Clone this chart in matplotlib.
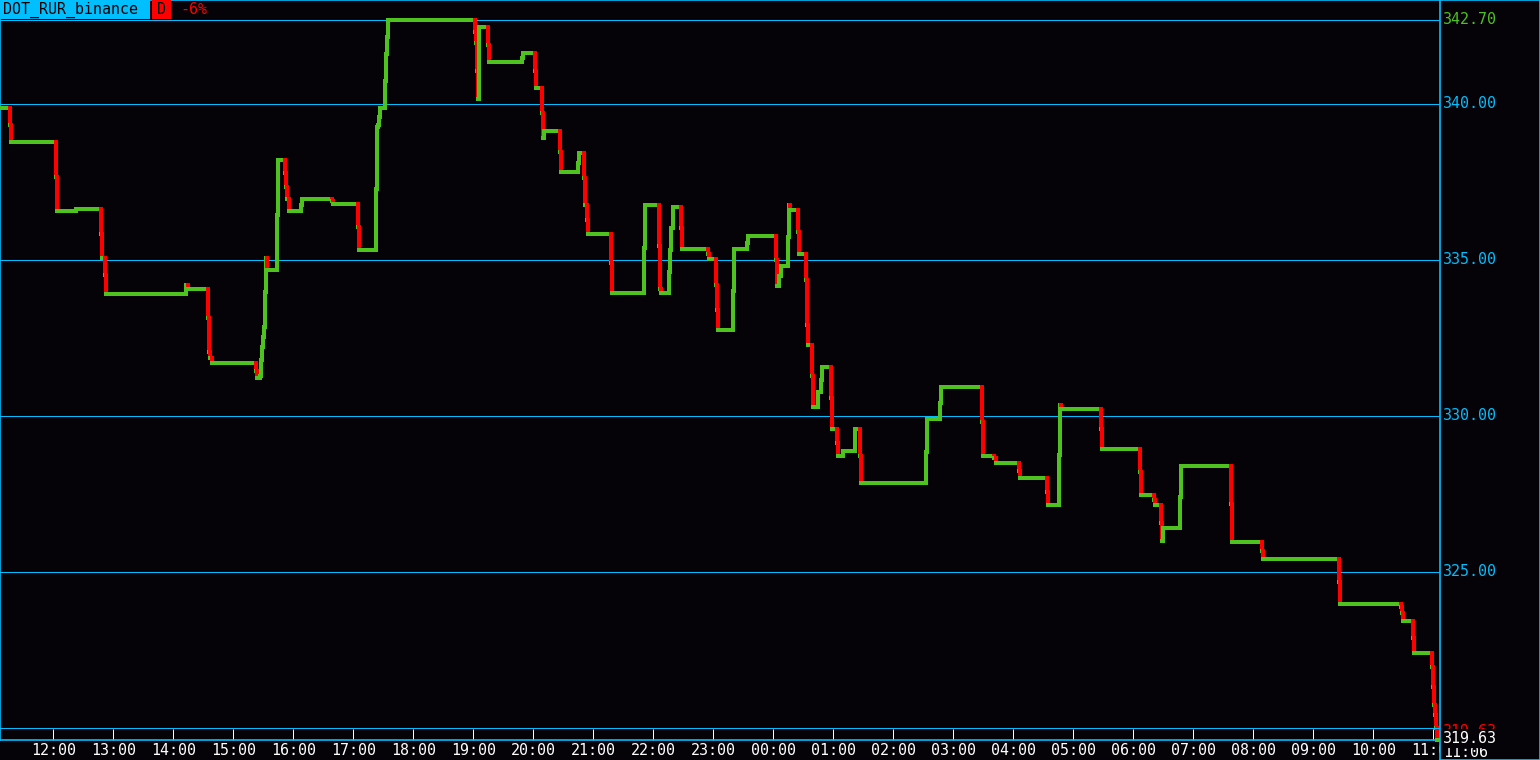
import matplotlib
matplotlib.use("Agg")
import matplotlib.pyplot as plt
from matplotlib.collections import LineCollection
from matplotlib.patches import Rectangle

plt.rcParams["font.family"] = ["DejaVu Sans Mono"]

# minutes since 11:06:40 at which the price changed, and the new price
minutes = [0, 10, 11, 56, 57, 76, 101, 102, 105, 106, 186, 188, 208, 209, 210, 212,
           256, 257, 260, 261, 262, 263, 264, 265, 266, 267, 277, 278, 285, 286, 287, 289,
           301, 302, 332, 333, 358, 359, 376, 377, 378, 379, 380, 385, 386, 387, 388,
           475, 476, 477, 478, 479, 488, 489, 522, 523, 535, 536, 542, 543, 544,
           560, 561, 578, 579, 584, 585, 587, 588, 611, 612, 644, 645, 659, 660, 661,
           669, 670, 671, 673, 681, 682, 708, 709, 716, 717, 718, 733, 734, 747, 748,
           776, 777, 779, 781, 788, 789, 790, 798, 799, 806, 807, 808, 812, 813,
           818, 821, 822, 831, 832, 837, 838, 843, 855, 860, 861, 926, 927, 940, 941,
           982, 983, 994, 996, 1019, 1020, 1047, 1048, 1059, 1060, 1061, 1101, 1102,
           1140, 1141, 1154, 1155, 1161, 1162, 1163, 1180, 1181, 1231, 1232, 1262, 1263,
           1339, 1340, 1401, 1402, 1403, 1413, 1414, 1432, 1433, 1434, 1435, 1436, 1437]
prices = [339.88, 339.33, 338.79, 337.67, 336.58, 336.64, 335.83, 335.05, 334.52, 333.92,
          334.20, 334.07, 333.15, 332.06, 331.86, 331.71,
          331.44, 331.23, 331.29, 331.79, 332.22, 332.54, 332.86, 333.98, 335.05, 334.68,
          336.44, 338.21, 337.78, 337.35, 336.96, 336.58,
          336.76, 336.96, 336.89, 336.80, 336.07, 335.32, 337.28, 339.27, 339.33, 339.59,
          339.86, 340.74, 341.59, 342.16, 342.70,
          342.32, 341.95, 341.07, 340.16, 342.46, 341.89, 341.36, 341.46, 341.63, 341.07,
          340.50, 339.71, 338.90, 339.13,
          338.47, 337.83, 338.10, 338.44, 337.62, 336.76, 336.28, 335.83, 334.89, 333.95,
          335.38, 336.76, 335.46, 334.06, 333.95,
          334.63, 335.32, 336.02, 336.71, 336.02, 335.36, 335.19, 335.04, 334.20, 333.40,
          332.76, 334.02, 335.34, 335.54, 335.77,
          335.00, 334.17, 334.49, 334.81, 335.75, 336.76, 336.60, 335.91, 335.19, 334.36,
          332.92, 332.28, 331.29, 330.30,
          330.78, 331.15, 331.58, 330.59, 329.58, 329.13, 328.72, 328.89, 329.58, 328.72,
          327.86, 328.86, 329.89, 330.43, 330.94,
          329.82, 328.72, 328.64, 328.49, 328.25, 328.02, 327.57, 327.15, 328.75, 330.35,
          330.22, 329.58, 328.94,
          328.21, 327.48, 327.31, 327.15, 326.58, 326.00, 326.42, 327.39, 328.41, 327.18,
          325.97, 325.67, 325.42,
          324.69, 323.97, 323.89, 323.68, 323.43, 322.88, 322.41, 321.96, 321.30, 320.74,
          320.42, 319.99, 319.63]
end_minute = 1438

grid_levels = [340, 335, 330, 325]
hour_labels = ["12:00", "13:00", "14:00", "15:00", "16:00", "17:00", "18:00", "19:00",
               "20:00", "21:00", "22:00", "23:00", "00:00", "01:00", "02:00", "03:00",
               "04:00", "05:00", "06:00", "07:00", "08:00", "09:00", "10:00", "11:00"]
symbol = "DOT_RUR_binance"
change = "-6%"
now_label = "11:06"

bg = "#050308"
cyan = "#00bfff"
green = "#4ec21f"
red = "#ff0000"
fs = 10.8

W, H = 1540, 760
fig = plt.figure(figsize=(W / 100, H / 100), dpi=100, facecolor=bg)

# main price area
ax = fig.add_axes([0, 20 / H, 1440 / W, 740 / H])
ax.set_facecolor(bg)
ax.set_xlim(0, 1440)
top = 340 + 104 / 31.2
bottom = 340 - 636 / 31.2
ax.set_ylim(bottom, top)

for lvl in grid_levels:
    ax.axhline(lvl, color=cyan, lw=0.72, antialiased=False, zorder=1)
hi = max(prices)
ax.axhline(hi, color=cyan, lw=0.72, antialiased=False, zorder=1)

segs, cols = [], []
n = len(minutes)
for i in range(n):
    x0 = minutes[i]
    x1 = minutes[i + 1] if i + 1 < n else end_minute
    segs.append([(x0, prices[i]), (x1, prices[i])])
    cols.append(green)
    if i + 1 < n:
        segs.append([(x1, prices[i]), (x1, prices[i + 1])])
        cols.append(red if prices[i + 1] < prices[i] else green)
lc = LineCollection(segs, colors=cols, linewidths=1.6, capstyle="projecting",
                    antialiaseds=False, zorder=3)
lc.set_clip_on(False)
ax.add_collection(lc)

# time band
ax.plot([0, 1], [12 / 740, 12 / 740], transform=ax.transAxes, color=cyan, lw=0.72,
        antialiased=False, clip_on=False, zorder=4)
hour_pos = [53.33 + 60 * i for i in range(len(hour_labels))]
ax.set_xticks(hour_pos)
ax.set_xticklabels(hour_labels)
ax.tick_params(axis="x", direction="in", length=8, width=0.72, color="white",
               labelcolor="white", labelsize=fs, pad=2)
ax.set_yticks([])
for side in ["left", "bottom", "top"]:
    ax.spines[side].set_color(cyan)
    ax.spines[side].set_linewidth(1.2)
ax.spines["right"].set_visible(False)

# right price panel
ax2 = fig.add_axes([1440 / W, 0, 100 / W, 1], zorder=5)
ax2.set_facecolor(bg)
ax2.set_xlim(0, 100)
ax2.set_ylim(340 - 656 / 31.2, top)
ax2.set_xticks([])
ax2.set_yticks([])
for side in ax2.spines:
    ax2.spines[side].set_color(cyan)
    ax2.spines[side].set_linewidth(1.2)

for lvl in grid_levels:
    ax2.text(3, lvl, f"{lvl:.2f}", color=cyan, fontsize=fs, va="center", ha="left")
ax2.text(3, hi, f"{hi:.2f}", color=green, fontsize=fs, va="center", ha="left")

last = prices[-1]
ax2.annotate(f"{last:.2f}", (3, last), xytext=(0, 8), textcoords="offset pixels",
             color=red, fontsize=fs, va="center", ha="left")
ax2.annotate(now_label, (3, last), xytext=(0, -13), textcoords="offset pixels",
             color="white", fontsize=fs, va="center", ha="left")
ax2.annotate(f"{last:.2f}", (3, last), xytext=(0, 1), textcoords="offset pixels",
             color="white", fontsize=fs, va="center", ha="left",
             bbox=dict(facecolor=bg, edgecolor="none", pad=1.5))

# title box
fig.add_artist(Rectangle((0, 1 - 19 / H), 150 / W, 19 / H, transform=fig.transFigure,
                         facecolor=cyan, edgecolor="none", zorder=10))
fig.add_artist(Rectangle((152 / W, 1 - 19 / H), 19 / W, 19 / H, transform=fig.transFigure,
                         facecolor=red, edgecolor="none", zorder=10))
fig.text(3 / W, 1 - 10 / H, symbol, color="black", fontsize=fs, va="center", ha="left",
         zorder=11)
fig.text(157 / W, 1 - 10 / H, "D", color="black", fontsize=fs, va="center", ha="left",
         zorder=11)
fig.text(180 / W, 1 - 10 / H, change, color=red, fontsize=fs, va="center", ha="left",
         zorder=11)

fig.savefig("out.png", dpi=100, facecolor=bg)
